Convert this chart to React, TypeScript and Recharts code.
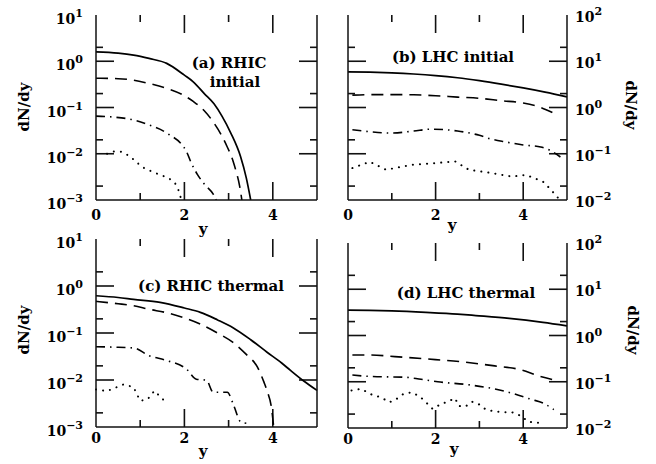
import { LineChart, Line, XAxis, YAxis } from 'recharts';

// rapidity ticks and decade ticks (major at 10^n, minor at 2x10^n)
const xTicks = [0, 1, 2, 3, 4, 5];
const rhicTicks = [1e-3, 2e-3, 1e-2, 2e-2, 1e-1, 2e-1, 1, 2, 10];
const lhcTicks = [1e-2, 2e-2, 1e-1, 2e-1, 1, 2, 10, 20, 100];

// (a) RHIC initial  [y, dN/dy]
const aSolid = [[0, 1.6], [0.5, 1.5], [0.85, 1.36], [1.2, 1.15], [1.6, 0.9], [2.0, 0.5], [2.2, 0.36], [2.45, 0.2], [2.67, 0.12], [2.85, 0.065], [3.05, 0.028], [3.27, 0.0087], [3.4, 0.003], [3.5, 0.001]];
const aDashed = [[0, 0.43], [0.5, 0.42], [0.85, 0.39], [1.2, 0.33], [1.6, 0.26], [2.0, 0.18], [2.2, 0.135], [2.45, 0.085], [2.67, 0.046], [2.85, 0.024], [2.97, 0.014], [3.1, 0.007], [3.16, 0.0045], [3.25, 0.002], [3.3, 0.001]];
const aDashDot = [[0, 0.065], [0.4, 0.062], [0.85, 0.054], [1.2, 0.042], [1.6, 0.028], [2.05, 0.011], [2.15, 0.0065], [2.3, 0.0035], [2.47, 0.0021], [2.66, 0.0013], [2.72, 0.001]];
const aDotted = [[0.25, 0.01], [0.4, 0.0112], [0.58, 0.011], [0.77, 0.0088], [0.92, 0.0065], [1.09, 0.0049], [1.27, 0.0041], [1.45, 0.0035], [1.64, 0.003], [1.79, 0.0023], [1.87, 0.0016], [1.92, 0.0011]];

// (b) LHC initial
const bSolid = [[0, 5.9], [0.5, 5.8], [1, 5.6], [1.5, 5.3], [2, 4.9], [2.5, 4.4], [3, 3.8], [3.5, 3.2], [4, 2.65], [4.5, 2.15], [5, 1.7]];
const bDashed = [[0.1, 1.85], [0.5, 1.9], [1, 1.9], [1.5, 1.88], [2, 1.8], [2.5, 1.68], [3, 1.58], [3.5, 1.4], [4, 1.25], [4.35, 1.04], [4.7, 0.75]];
const bDashDot = [[0.1, 0.33], [0.5, 0.3], [1, 0.28], [1.5, 0.31], [1.9, 0.34], [2.5, 0.31], [3, 0.25], [3.25, 0.21], [3.6, 0.18], [4, 0.155], [4.4, 0.14], [4.6, 0.12], [4.85, 0.085]];
const bDotted = [[0.1, 0.049], [0.5, 0.067], [0.87, 0.045], [1.47, 0.058], [2, 0.063], [2.45, 0.068], [2.76, 0.045], [3.3, 0.038], [3.75, 0.032], [4.06, 0.035], [4.45, 0.025], [4.6, 0.018], [4.8, 0.011]];

// (c) RHIC thermal
const cSolid = [[0, 0.62], [0.5, 0.57], [0.85, 0.52], [1.45, 0.45], [2, 0.34], [2.36, 0.275], [2.75, 0.19], [3.1, 0.13], [3.5, 0.072], [3.87, 0.039], [4.2, 0.023], [4.4, 0.016], [4.7, 0.0095], [5, 0.006]];
const cDashed = [[0, 0.47], [0.5, 0.42], [0.85, 0.38], [1.2, 0.32], [1.6, 0.27], [2, 0.21], [2.36, 0.155], [2.75, 0.1], [3.1, 0.063], [3.4, 0.035], [3.65, 0.019], [3.8, 0.009], [3.87, 0.0059], [3.98, 0.0022], [4.02, 0.001]];
const cDashDot = [[0, 0.051], [0.4, 0.05], [0.85, 0.048], [1.2, 0.033], [1.6, 0.026], [2.05, 0.017], [2.27, 0.0104], [2.5, 0.0099], [2.65, 0.0055], [2.97, 0.0055], [3.12, 0.0028], [3.27, 0.0013], [3.4, 0.0012]];
const cDotted = [[0, 0.0063], [0.25, 0.0058], [0.63, 0.0081], [0.85, 0.007], [1.0, 0.0036], [1.17, 0.0039], [1.32, 0.0059], [1.55, 0.0036], [1.6, 0.0034]];

// (d) LHC thermal
const dSolid = [[0, 3.55], [0.5, 3.5], [1, 3.4], [1.78, 3.16], [2.5, 2.9], [2.92, 2.7], [3.68, 2.35], [4.45, 1.93], [5, 1.62]];
const dDashed = [[0.1, 0.38], [0.5, 0.38], [1.07, 0.35], [1.83, 0.31], [2.59, 0.27], [3.35, 0.22], [3.96, 0.18], [4.34, 0.135], [4.7, 0.11]];
const dDashDot = [[0.1, 0.14], [0.52, 0.13], [1.3, 0.125], [1.75, 0.11], [2.05, 0.1], [2.8, 0.085], [3.56, 0.063], [4.17, 0.042], [4.47, 0.034], [4.7, 0.025]];
const dDotted = [[0.08, 0.065], [0.3, 0.07], [0.57, 0.051], [0.76, 0.046], [0.94, 0.036], [1.07, 0.04], [1.26, 0.054], [1.45, 0.059], [1.64, 0.048], [1.78, 0.036], [1.93, 0.026], [2.1, 0.032], [2.27, 0.037], [2.45, 0.044], [2.52, 0.03], [2.68, 0.029], [2.83, 0.037], [2.98, 0.033], [3.15, 0.025], [3.32, 0.023], [3.55, 0.022], [3.74, 0.022], [3.97, 0.018], [4.1, 0.0138], [4.28, 0.013], [4.45, 0.013]];

const FONT = 'DejaVu Serif';
const MAJOR = 18; // tick lengths in px
const MINOR = 7;
const PAD_L = 60; // y axis band width
const PAD_T = 20; // room above the box for exponents
const INK = '#111';

const toRows = (pts: number[][]) => pts.map(([y, v]) => ({ y, v }));

const isMajorY = (v: number) => Math.abs(Math.log10(v) - Math.round(Math.log10(v))) < 1e-6;

function Pow({ x, y, v, anchor }: { x: number; y: number; v: number; anchor: 'start' | 'end' }) {
    const e = Math.round(Math.log10(v));
    return (
        <text x={x} y={y} textAnchor={anchor} fontFamily={FONT} fontWeight="bold" fontSize={14} fill="#000">
            10<tspan dy={-7} fontSize={11}>{e < 0 ? '\u2212' + -e : String(e)}</tspan>
        </text>
    );
}

function Panel({ left, top, w, h, domain, ticks, side, series }: any) {
    const [lo, hi] = domain;
    const xPerPx = 5 / w;
    const decPerPx = Math.log10(hi / lo) / h;
    const labelDy = top < 100 ? 20 : 16;

    const yLabel = (dir: number, labelled: boolean) => (p: any) =>
        labelled && isMajorY(p.payload.value) ? (
            <Pow x={dir > 0 ? p.x - 13 : p.x + 8} y={p.y + (dir > 0 ? 9 : 7)} v={p.payload.value} anchor={dir > 0 ? 'end' : 'start'} />
        ) : <g />;
    const xLabel = (p: any) =>
        p.payload.value % 2 === 0 && p.payload.value < 5 ? (
            <text x={p.x} y={p.y + labelDy} textAnchor="middle" fontFamily={FONT} fontWeight="bold" fontSize={14} fill="#000">{p.payload.value}</text>
        ) : <g />;

    // inward frame ticks, drawn as short two-point series on the panel's own scales
    const tickMarks: { key: string; pts: number[][] }[] = [];
    ticks.forEach((v: number) => {
        if (v <= lo || v >= hi) return;
        const len = (isMajorY(v) ? MAJOR : MINOR) * xPerPx;
        tickMarks.push({ key: 'l' + v, pts: [[0, v], [len, v]] });
        tickMarks.push({ key: 'r' + v, pts: [[5 - len, v], [5, v]] });
    });
    xTicks.forEach((t) => {
        if (t === 0 || t === 5) return;
        const f = Math.pow(10, (t % 2 === 0 ? MAJOR : MINOR) * decPerPx);
        tickMarks.push({ key: 'b' + t, pts: [[t, lo], [t, lo * f]] });
        tickMarks.push({ key: 't' + t, pts: [[t, hi / f], [t, hi]] });
    });

    const axisLine = { stroke: INK, strokeWidth: 1.5 };
    return (
        <div style={{ position: 'absolute', left: left - PAD_L, top: top - PAD_T }}>
            <LineChart width={w + 2 * PAD_L} height={h + PAD_T + 40} margin={{ top: PAD_T, right: 0, bottom: 0, left: 0 }}>
                <XAxis xAxisId="b" dataKey="y" type="number" domain={[0, 5]} ticks={xTicks} interval={0}
                    height={40} tickSize={0} tickMargin={0} axisLine={axisLine} tickLine={false} tick={xLabel} />
                <XAxis xAxisId="t" orientation="top" dataKey="y" type="number" domain={[0, 5]} ticks={xTicks}
                    height={0} axisLine={axisLine} tickLine={false} tick={false} />
                <YAxis yAxisId="l" type="number" scale="log" domain={domain} ticks={ticks} interval={0} allowDataOverflow
                    width={PAD_L} tickSize={0} tickMargin={0} axisLine={axisLine} tickLine={false} tick={yLabel(1, side === 'left')} />
                <YAxis yAxisId="r" orientation="right" type="number" scale="log" domain={domain} ticks={ticks} interval={0} allowDataOverflow
                    width={PAD_L} tickSize={0} tickMargin={0} axisLine={axisLine} tickLine={false} tick={yLabel(-1, side === 'right')} />
                {tickMarks.map((m) => (
                    <Line key={m.key} xAxisId="b" yAxisId="l" data={toRows(m.pts)} dataKey="v" type="linear"
                        stroke={INK} strokeWidth={1.6} dot={false} activeDot={false} legendType="none" isAnimationActive={false} />
                ))}
                <Line xAxisId="b" yAxisId="l" data={toRows(series.solid)} dataKey="v" type="monotone" stroke="#000" strokeWidth={1.7} dot={false} isAnimationActive={false} />
                <Line xAxisId="b" yAxisId="l" data={toRows(series.dashed)} dataKey="v" type="monotone" stroke="#000" strokeWidth={1.6} strokeDasharray="12 7" dot={false} isAnimationActive={false} />
                <Line xAxisId="b" yAxisId="l" data={toRows(series.dashdot)} dataKey="v" type="monotone" stroke="#000" strokeWidth={1.6} strokeDasharray="9 5 1.5 5" dot={false} isAnimationActive={false} />
                <Line xAxisId="b" yAxisId="l" data={toRows(series.dotted)} dataKey="v" type="linear" stroke="#000" strokeWidth={2} strokeLinecap="round" strokeDasharray="0.1 7" dot={false} isAnimationActive={false} />
            </LineChart>
        </div>
    );
}

const T = { fontFamily: FONT, fontWeight: 'bold' as const, fontSize: 15, fill: '#000' };

export default function App() {
    return (
        <div style={{ position: 'absolute', left: 0, top: 0, width: 656, height: 464, background: '#fff' }}>
            <svg width={656} height={464} style={{ position: 'absolute', left: 0, top: 0 }}>
                <text {...T} x={229} y={68} textAnchor="middle">(a) RHIC</text>
                <text {...T} x={235} y={87} textAnchor="middle">initial</text>
                <text {...T} x={453} y={62} textAnchor="middle">(b) LHC initial</text>
                <text {...T} x={211} y={291} textAnchor="middle">(c) RHIC thermal</text>
                <text {...T} x={466} y={298} textAnchor="middle">(d) LHC thermal</text>
                <text {...T} x={203} y={234} textAnchor="middle">y</text>
                <text {...T} x={452} y={230} textAnchor="middle">y</text>
                <text {...T} x={203} y={456} textAnchor="middle">y</text>
                <text {...T} x={454} y={454} textAnchor="middle">y</text>
                <text {...T} textAnchor="middle" transform="translate(29,107) rotate(-90)">dN/dy</text>
                <text {...T} textAnchor="middle" transform="translate(29,330) rotate(-90)">dN/dy</text>
                <text {...T} textAnchor="middle" transform="translate(626,105) rotate(90)">dN/dy</text>
                <text {...T} textAnchor="middle" transform="translate(628,330) rotate(90)">dN/dy</text>
            </svg>
            <Panel left={96} top={15} w={221} h={185} domain={[1e-3, 10]} ticks={rhicTicks} side="left"
                series={{ solid: aSolid, dashed: aDashed, dashdot: aDashDot, dotted: aDotted }} />
            <Panel left={348} top={15} w={219} h={185} domain={[1e-2, 100]} ticks={lhcTicks} side="right"
                series={{ solid: bSolid, dashed: bDashed, dashdot: bDashDot, dotted: bDotted }} />
            <Panel left={96} top={239} w={221} h={188} domain={[1e-3, 10]} ticks={rhicTicks} side="left"
                series={{ solid: cSolid, dashed: cDashed, dashdot: cDashDot, dotted: cDotted }} />
            <Panel left={348} top={243} w={219} h={185} domain={[1e-2, 100]} ticks={lhcTicks} side="right"
                series={{ solid: dSolid, dashed: dDashed, dashdot: dDashDot, dotted: dDotted }} />
        </div>
    );
}
